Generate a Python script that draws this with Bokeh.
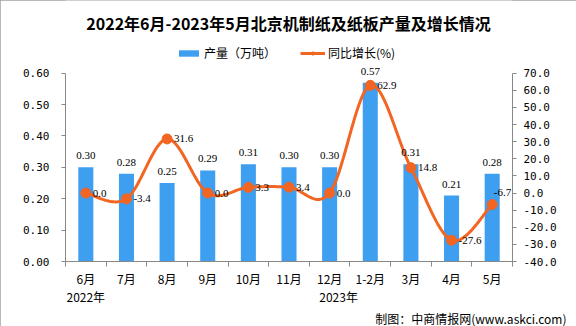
import numpy as np
from bokeh.plotting import figure
from bokeh.models import (Range1d, LinearAxis, FixedTicker, Label, LabelSet, Legend,
                          LegendItem, ColumnDataSource, NumeralTickFormatter, Title)
from bokeh.embed import file_html
from bokeh.resources import INLINE

categories = ["6月", "7月", "8月", "9月", "10月", "11月", "12月", "1-2月", "3月", "4月", "5月"]
production = [0.30, 0.28, 0.25, 0.29, 0.31, 0.30, 0.30, 0.57, 0.31, 0.21, 0.28]
growth = [0.0, -3.4, 31.6, 0.0, 3.3, 3.4, 0.0, 62.9, 14.8, -27.6, -6.7]
left_ticks = [0.0, 0.1, 0.2, 0.3, 0.4, 0.5, 0.6]
right_ticks = [-40, -30, -20, -10, 0, 10, 20, 30, 40, 50, 60, 70]
title_text = "2022年6月-2023年5月北京机制纸及纸板产量及增长情况"
source_text = "制图：中商情报网(www.askci.com)"
year_labels = ["2022年", "2023年"]
year_pos = [0.0, 6.22]

BLUE = "#3E9EF0"
ORANGE = "#F26522"
NUM_FONT = "DejaVu Sans Mono"
CJK = "Noto Sans CJK SC"
AX = "#888888"

# layout (pixels)
W, H = 576, 326
F_LEFT, F_RIGHT, F_BOTTOM = 65, 512, 262
AX_TOP = 73  # where the top tick (0.60 / 70.0) sits
frame_h = F_BOTTOM  # frame spans from the top of the canvas to the x axis
scale = frame_h / (F_BOTTOM - AX_TOP)

xs = list(range(len(categories)))
ltop = left_ticks[0] + (left_ticks[-1] - left_ticks[0]) * scale
rtop = right_ticks[0] + (right_ticks[-1] - right_ticks[0]) * scale

p = figure(width=W, height=H, output_backend="svg", toolbar_location=None,
           x_range=Range1d(-0.5, len(categories) - 0.5), y_range=Range1d(left_ticks[0], ltop),
           min_border_left=F_LEFT, min_border_right=W - F_RIGHT, min_border_top=0,
           min_border_bottom=H - F_BOTTOM)
p.extra_y_ranges = {"g": Range1d(right_ticks[0], rtop)}
p.grid.visible = False
p.outline_line_color = None
p.background_fill_color = "white"
p.border_fill_color = "white"

# bars
bar_src = ColumnDataSource(dict(x=xs, top=production, lab=["%.2f" % v for v in production]))
bars = p.vbar(x="x", top="top", width=0.37, source=bar_src, fill_color=BLUE, line_color=None)

# smooth line (Bezier through the data points)
px = np.array(xs, dtype=float)
py = np.array(growth, dtype=float)
cx, cy = [], []
n = len(px)
for i in range(n - 1):
    p0 = np.array([px[max(i - 1, 0)], py[max(i - 1, 0)]])
    p1 = np.array([px[i], py[i]])
    p2 = np.array([px[i + 1], py[i + 1]])
    p3 = np.array([px[min(i + 2, n - 1)], py[min(i + 2, n - 1)]])
    c1 = p1 + (p2 - p0) / 6.0
    c2 = p2 - (p3 - p1) / 6.0
    t = np.linspace(0, 1, 30)[:, None]
    pts = (1 - t) ** 3 * p1 + 3 * (1 - t) ** 2 * t * c1 + 3 * (1 - t) * t ** 2 * c2 + t ** 3 * p2
    cx.extend(pts[:, 0]); cy.extend(pts[:, 1])
line = p.line(cx, cy, y_range_name="g", line_color=ORANGE, line_width=3)

# growth labels: right of each point; the last one is lifted so it stays inside the plot
xo = [7] * n
yo = [0] * n
al = ["left"] * n
xo[-1], yo[-1], al[-1] = 19, 12, "right"
g_src = ColumnDataSource(dict(x=xs, y=growth, lab=["%.1f" % v for v in growth],
                              xo=xo, yo=yo, al=al))
dots = p.scatter("x", "y", source=g_src, y_range_name="g", size=10, fill_color=ORANGE, line_color=ORANGE)

p.add_layout(LabelSet(x="x", y="top", text="lab", source=bar_src, y_offset=8,
                      text_align="center", text_baseline="bottom", text_font=NUM_FONT,
                      text_font_size="11px", text_color="black"))
p.add_layout(LabelSet(x="x", y="y", text="lab", source=g_src, y_range_name="g",
                      x_offset="xo", y_offset="yo", text_align="al",
                      text_baseline="middle", text_font=NUM_FONT,
                      text_font_size="11px", text_color="black"))

# axes
ly = p.yaxis[0]
ly.ticker = FixedTicker(ticks=left_ticks)
ly.bounds = (left_ticks[0], left_ticks[-1])
ly.formatter = NumeralTickFormatter(format="0.00")

ry = LinearAxis(y_range_name="g", ticker=FixedTicker(ticks=right_ticks),
                formatter=NumeralTickFormatter(format="0.0"),
                bounds=(right_ticks[0], right_ticks[-1]))
p.add_layout(ry, "right")
for ax, so in [(ly, 12), (ry, 7)]:
    ax.axis_line_color = AX
    ax.major_tick_line_color = AX
    ax.major_tick_out = 4
    ax.major_tick_in = 0
    ax.minor_tick_line_color = None
    ax.major_label_standoff = so
    ax.major_label_text_font = NUM_FONT
    ax.major_label_text_font_size = "11px"
    ax.major_label_text_color = "black"

xa = p.xaxis[0]
xa.ticker = FixedTicker(ticks=xs, minor_ticks=[i - 0.5 for i in range(len(categories) + 1)])
xa.major_label_overrides = {i: c for i, c in enumerate(categories)}
xa.axis_line_color = AX
xa.major_tick_line_color = None
xa.major_tick_out = 0
xa.major_tick_in = 0
xa.minor_tick_line_color = AX
xa.minor_tick_out = 5
xa.minor_tick_in = 0
xa.major_label_standoff = 3
xa.major_label_text_font = CJK
xa.major_label_text_font_size = "12px"
xa.major_label_text_color = "black"

# year labels as a second, bare axis below
ya = LinearAxis(ticker=FixedTicker(ticks=year_pos))
ya.major_label_overrides = {v: t for v, t in zip(year_pos, year_labels)}
ya.axis_line_color = None
ya.major_tick_line_color = None
ya.minor_tick_line_color = None
ya.major_tick_out = 0
ya.major_tick_in = 0
ya.major_label_standoff = -2
ya.major_label_text_font = CJK
ya.major_label_text_font_size = "12px"
ya.major_label_text_color = "black"
p.add_layout(ya, "below")

# footer
p.add_layout(Title(text=source_text, align="right", offset=-54, text_font=CJK,
                   text_font_size="12px", text_font_style="normal", text_color="black",
                   standoff=0, text_line_height=1.0), "below")

# title inside the (tall) frame
p.add_layout(Label(x=W / 2 - F_LEFT, y=F_BOTTOM - 23, x_units="screen", y_units="screen",
                   text=title_text, text_align="center", text_baseline="middle", text_font=CJK,
                   text_font_size="16px", text_font_style="bold", text_color="black"))

legend = Legend(items=[LegendItem(label="产量（万吨）", renderers=[bars]),
                       LegendItem(label="同比增长(%)", renderers=[line, dots])],
                orientation="horizontal", location=(176 - F_LEFT, F_BOTTOM - 62),
                glyph_width=25, glyph_height=8, label_standoff=3, spacing=24,
                padding=0, margin=0, border_line_color=None, background_fill_alpha=0,
                label_text_font=CJK, label_text_font_size="12px", label_text_color="black")
p.add_layout(legend)

p.styles = {"outline": "1px solid #a0a0a0", "outline-offset": "-1px"}

open("out.html", "w").write(file_html(p, INLINE))
